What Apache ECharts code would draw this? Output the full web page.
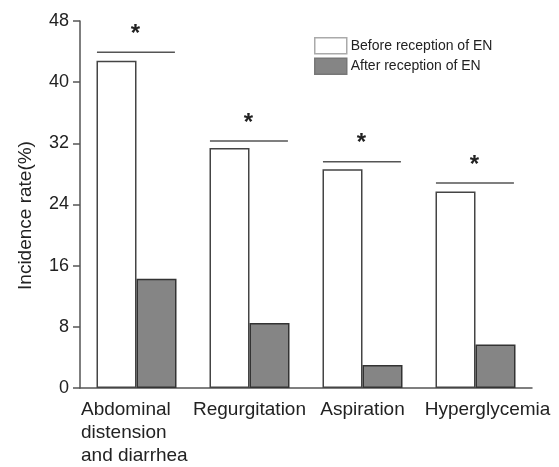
<!DOCTYPE html>
<html>
<head>
<meta charset="utf-8">
<script src="https://cdn.jsdelivr.net/npm/echarts@6/dist/echarts.min.js"></script>
<style>
html,body{margin:0;padding:0;background:#fff;}
#chart{width:559px;height:467px;}
</style>
</head>
<body>
<div id="chart"></div>
<script>
const categories = ['Abdominal\ndistension\nand diarrhea', 'Regurgitation', 'Aspiration', 'Hyperglycemia'];
const seriesNames = ['Before reception of EN', 'After reception of EN'];
const beforeValues = [42.8, 31.4, 28.6, 25.7];
const afterValues = [14.3, 8.5, 3.0, 5.7];
const sigLineValues = [43.9, 32.3, 29.6, 26.8];
const sigMarks = ['*', '*', '*', '*'];
const yTicks = { min: 0, max: 48, interval: 8 };

const textColor = '#222';
const font = 'Liberation Sans, Arial, Helvetica, sans-serif';

const chart = echarts.init(document.getElementById('chart'), null, { renderer: 'canvas' });

const xData = categories.map((c, i) => {
  if (i === 3) {
    return { value: c, textStyle: { padding: [0, 0, 0, 24] } };
  }
  return { value: c };
});

const option = {
  backgroundColor: '#fff',
  animation: false,
  grid: { left: 80, right: 27, top: 21, bottom: 78, containLabel: false },
  legend: {
    orient: 'vertical',
    left: 314,
    top: 37,
    padding: 0,
    itemWidth: 32,
    itemHeight: 16,
    itemGap: 3,
    textStyle: { fontSize: 14, color: textColor, fontFamily: font, padding: [0, 0, 0, -1] },
    data: [
      { name: seriesNames[0], icon: 'rect', itemStyle: { color: '#fff', borderColor: '#aaa', borderWidth: 1.5 } },
      { name: seriesNames[1], icon: 'rect', itemStyle: { color: '#858585', borderColor: '#777', borderWidth: 1.5 } }
    ]
  },
  xAxis: {
    type: 'category',
    data: xData,
    axisLine: { show: true, lineStyle: { color: '#555', width: 1.5 } },
    axisTick: { show: false },
    axisLabel: {
      interval: 0,
      hideOverlap: false,
      color: textColor,
      fontSize: 19,
      fontFamily: font,
      margin: 10,
      lineHeight: 23,
      formatter: function (val, idx) {
        if (idx === 0) {
          return val.split('\n').map(s => '{l|' + s + '}').join('\n');
        }
        return val;
      },
      rich: {
        l: { width: 111, align: 'left', fontSize: 19, lineHeight: 23, color: textColor, fontFamily: font }
      }
    },
    splitLine: { show: false }
  },
  yAxis: {
    type: 'value',
    min: yTicks.min,
    max: yTicks.max,
    interval: yTicks.interval,
    name: 'Incidence rate(%)',
    nameLocation: 'middle',
    nameGap: 45,
    nameTextStyle: { fontSize: 19, color: textColor, fontFamily: font, padding: [0, 22, 0, 0] },
    axisLine: { show: true, lineStyle: { color: '#555', width: 1.5 } },
    axisTick: { show: true, inside: false, length: 7, lineStyle: { color: '#555', width: 1.5 } },
    axisLabel: { color: textColor, fontSize: 18, fontFamily: font, margin: 11 },
    splitLine: { show: false }
  },
  series: [
    {
      name: seriesNames[0],
      type: 'bar',
      data: beforeValues,
      barWidth: 40,
      barGap: '0%',
      itemStyle: { color: '#fff', borderColor: '#444', borderWidth: 1.5 }
    },
    {
      name: seriesNames[1],
      type: 'bar',
      data: afterValues,
      barWidth: 40,
      barGap: '0%',
      itemStyle: { color: '#858585', borderColor: '#333', borderWidth: 1.5 }
    },
    {
      name: 'sig',
      type: 'custom',
      silent: true,
      z: 10,
      data: sigLineValues.map((v, i) => [i, v]),
      renderItem: function (params, api) {
        const idx = api.value(0);
        const v = api.value(1);
        const p = api.coord([idx, v]);
        const band = api.size([1, 0])[0];
        const x1 = p[0] - band * 0.35;
        const x2 = p[0] + band * 0.34;
        return {
          type: 'group',
          children: [
            {
              type: 'line',
              shape: { x1: x1, y1: p[1], x2: x2, y2: p[1] },
              style: { stroke: '#555', lineWidth: 1.5 }
            },
            {
              type: 'text',
              style: {
                text: sigMarks[idx],
                x: p[0] - 1,
                y: p[1] - 6,
                align: 'center',
                verticalAlign: 'bottom',
                font: 'bold 24px ' + font,
                fill: '#222'
              }
            }
          ]
        };
      }
    }
  ]
};

chart.setOption(option);
</script>
</body>
</html>
